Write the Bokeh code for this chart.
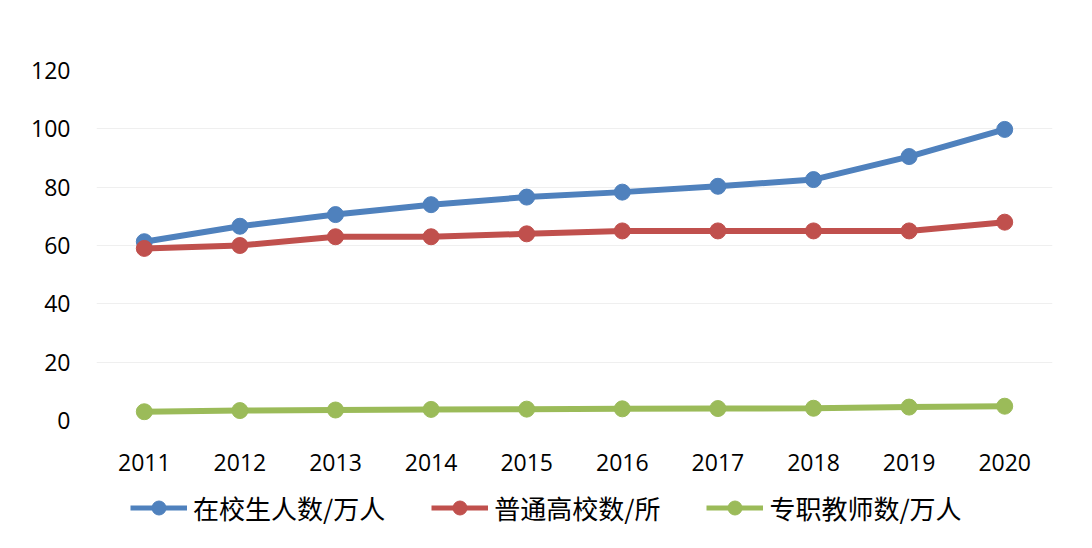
from bokeh.plotting import figure
from bokeh.layouts import column
from bokeh.models import FactorRange, Range1d, FixedTicker, Legend, LegendItem
from bokeh.embed import file_html
from bokeh.resources import INLINE

years = ["2011", "2012", "2013", "2014", "2015", "2016", "2017", "2018", "2019", "2020"]
students = [61.3, 66.6, 70.6, 74.0, 76.6, 78.3, 80.3, 82.6, 90.5, 99.8]
schools = [59, 60, 63, 63, 64, 65, 65, 65, 65, 68]
teachers = [3.0, 3.4, 3.6, 3.8, 3.9, 4.0, 4.1, 4.2, 4.6, 4.9]
y_ticks = [0, 20, 40, 60, 80, 100, 120]

series_names = ["在校生人数/万人", "普通高校数/所", "专职教师数/万人"]
series_colors = ["#4F81BD", "#C0504D", "#9BBB59"]

LINE_W = 6
MARK = 16

p = figure(
    width=1084, height=486,
    x_range=FactorRange(*years, range_padding=0),
    y_range=Range1d(0, 120),
    output_backend="svg", toolbar_location=None,
    min_border_left=96, min_border_right=32,
    min_border_top=70, min_border_bottom=66,
)
p.outline_line_color = None
p.background_fill_color = "white"
p.border_fill_color = "white"

p.yaxis.ticker = FixedTicker(ticks=y_ticks)
p.yaxis.axis_line_color = None
p.yaxis.major_tick_line_color = None
p.yaxis.minor_tick_line_color = None
p.yaxis.major_tick_out = 0
p.yaxis.major_label_standoff = 26
p.yaxis.major_label_text_font = "Open Sans"
p.yaxis.major_label_text_font_size = "23px"
p.yaxis.major_label_text_color = "#000000"

p.xaxis.axis_line_color = None
p.xaxis.major_tick_line_color = None
p.xaxis.minor_tick_line_color = None
p.xaxis.major_tick_out = 0
p.xaxis.major_label_standoff = 33
p.xaxis.major_label_text_font = "Open Sans"
p.xaxis.major_label_text_font_size = "23px"
p.xaxis.major_label_text_color = "#000000"

p.xgrid.grid_line_color = None
p.ygrid.grid_line_color = "#EFEFEF"
p.ygrid.grid_line_width = 1

series = [students, schools, teachers]
for vals, color in zip(series, series_colors):
    p.line(years, vals, line_color=color, line_width=LINE_W)
    p.scatter(years, vals, size=MARK, fill_color=color, line_color=color)

# legend strip below the chart (its frame is aligned with the main frame)
lg = figure(
    width=1084, height=54,
    x_range=FactorRange(*years, range_padding=0),
    y_range=Range1d(1000, 1001),
    output_backend="svg", toolbar_location=None,
    min_border=0,
)
lg.axis.visible = False
lg.grid.visible = False
lg.outline_line_color = None
lg.background_fill_color = "white"
lg.border_fill_color = "white"

items = []
for vals, name, color in zip(series, series_names, series_colors):
    lr = lg.line(years, vals, line_color=color, line_width=LINE_W - 1)
    sr = lg.scatter(years, vals, fill_color=color, line_color=color)
    items.append(LegendItem(label=name, renderers=[lr, sr]))

legend = Legend(
    items=items, orientation="horizontal", location=(34, 14),
    glyph_width=57, glyph_height=35, label_standoff=6, spacing=46,
    padding=0, margin=0, border_line_color=None, background_fill_alpha=0,
    label_text_font="Noto Sans CJK SC", label_text_font_size="26px",
    label_text_color="#000000",
)
lg.add_layout(legend, "center")

layout = column(p, lg, spacing=0)
open("out.html", "w").write(file_html(layout, INLINE))
